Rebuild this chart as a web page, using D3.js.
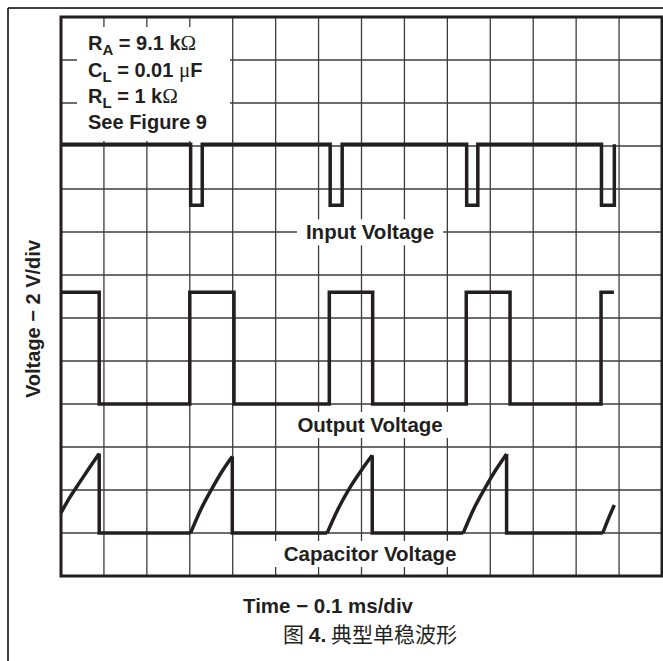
<!DOCTYPE html>
<html><head><meta charset="utf-8">
<script src="https://cdn.jsdelivr.net/npm/d3@7"></script>
<style>body{margin:0;background:#fff}</style>
</head><body><svg id="c" width="663" height="661"></svg>
<script>
// ---- data (time in divisions, voltage in divisions from bottom) ----
const xDivisions = d3.range(0, 15);
const yDivisions = d3.range(0, 14);
const inputTrace = [[0,10.04],[3.02,10.04],[3.02,8.62],[3.29,8.62],[3.29,10.04],[6.27,10.04],[6.27,8.62],[6.55,8.62],[6.55,10.04],[9.45,10.04],[9.45,8.62],[9.71,8.62],[9.71,10.04],[12.59,10.04],[12.59,8.62],[12.89,8.62],[12.89,10.04]];
const outputTrace = [[0,6.6],[0.89,6.6],[0.89,4.0],[3.0,4.0],[3.0,6.6],[4.03,6.6],[4.03,4.0],[6.25,4.0],[6.25,6.6],[7.26,6.6],[7.26,4.0],[9.44,4.0],[9.44,6.6],[10.46,6.6],[10.46,4.0],[12.58,4.0],[12.58,6.6],[12.88,6.6]];
const capRamps = [
  [[0,1.47],[0.22,1.85],[0.45,2.2],[0.67,2.53],[0.89,2.85]],
  [[3.02,1.0],[3.26,1.55],[3.51,2.02],[3.75,2.43],[3.99,2.78]],
  [[6.2,1.0],[6.46,1.57],[6.72,2.04],[6.99,2.45],[7.25,2.81]],
  [[9.37,1.0],[9.62,1.57],[9.88,2.05],[10.13,2.47],[10.38,2.84]],
  [[12.62,1.0],[12.75,1.33],[12.89,1.65]]
];
const capLow = 1.0;
const traceLabels = ["Input Voltage", "Output Voltage", "Capacitor Voltage"];
const paramLines = [["R","A"," = 9.1 k","Ω"],["C","L"," = 0.01 ","μ","F"],["R","L"," = 1 k","Ω"],["See Figure 9"]];
const xTitle = "Time − 0.1 ms/div";
const yTitle = "Voltage − 2 V/div";

// ---- layout ----
const L = 61, R = 662, T = 17, B = 576;
const x = d3.scaleLinear().domain([0, 14]).range([L, R]);
const y = d3.scaleLinear().domain([0, 13]).range([B, T]);
const ink = "#231f20";
const sans = "'Liberation Sans', Arial, Helvetica, sans-serif";
const svg = d3.select("#c");

// outer frame (top + left)
svg.append("line").attr("x1",8).attr("y1",8).attr("x2",663).attr("y2",8).attr("stroke","#000").attr("stroke-width",1.5);
svg.append("line").attr("x1",8).attr("y1",8).attr("x2",8).attr("y2",661).attr("stroke","#000").attr("stroke-width",1.5);

// grid
const g = svg.append("g");
g.selectAll(".vx").data(xDivisions).join("line")
  .attr("x1", d => x(d)).attr("x2", d => x(d)).attr("y1", T).attr("y2", B)
  .attr("stroke", "#3c3c3c").attr("stroke-width", 1.3);
g.selectAll(".hy").data(yDivisions).join("line")
  .attr("y1", d => y(d)).attr("y2", d => y(d)).attr("x1", L).attr("x2", R)
  .attr("stroke", "#3c3c3c").attr("stroke-width", 1.3);

// parameter box
svg.append("rect").attr("x", 77).attr("y", 27).attr("width", 153).attr("height", 114).attr("fill", "#fff");
const pt = svg.append("g").attr("font-family", sans).attr("font-weight", "bold").attr("font-size", 20).attr("fill", ink);
const baselines = [50, 76.5, 102.5, 128.5];
paramLines.forEach((parts, i) => {
  const t = pt.append("text").attr("x", 88).attr("y", baselines[i]);
  if (parts.length === 1) { t.text(parts[0]); return; }
  t.append("tspan").text(parts[0]);
  t.append("tspan").attr("font-size", 15).attr("dy", 5).text(parts[1]);
  t.append("tspan").attr("dy", -5).text(parts[2]);
  t.append("tspan").attr("font-family", "'Liberation Serif', 'DejaVu Serif', serif").attr("font-weight", "normal").attr("font-size", 21).text(parts[3]);
  if (parts[4]) t.append("tspan").text(parts[4]);
});

// trace labels with white backgrounds
const labelPos = [[7.2, 7.83], [7.2, 3.35], [7.2, 0.35]];
traceLabels.forEach((lab, i) => {
  const t = svg.append("text").attr("x", x(labelPos[i][0])).attr("y", y(labelPos[i][1]))
    .attr("text-anchor", "middle").attr("font-family", sans).attr("font-weight", "bold")
    .attr("font-size", 20.5).attr("fill", ink).text(lab);
  const bb = t.node().getBBox();
  svg.insert("rect", () => t.node()).attr("x", bb.x - 9).attr("y", bb.y - 1).attr("width", bb.width + 18).attr("height", bb.height + 3).attr("fill", "#fff");
});

// traces
const line = d3.line().x(d => x(d[0])).y(d => y(d[1]));
const traceStyle = sel => sel.attr("fill", "none").attr("stroke", ink).attr("stroke-width", 3.5).attr("stroke-linejoin", "miter").attr("stroke-linecap", "butt");
svg.append("path").attr("d", line(inputTrace)).call(traceStyle);
svg.append("path").attr("d", line(outputTrace)).call(traceStyle);
const curve = d3.line().x(d => x(d[0])).y(d => y(d[1])).curve(d3.curveMonotoneX);
capRamps.forEach((ramp, i) => {
  svg.append("path").attr("d", curve(ramp)).call(traceStyle);
  if (i < capRamps.length - 1) {
    const end = ramp[ramp.length - 1], next = capRamps[i + 1][0];
    svg.append("path").attr("d", line([end, [end[0], capLow], next])).call(traceStyle);
  }
});

// plot border
svg.append("rect").attr("x", L).attr("y", T).attr("width", R - L).attr("height", B - T)
  .attr("fill", "none").attr("stroke", ink).attr("stroke-width", 3);

// axis titles
svg.append("text").attr("transform", "translate(40,319) rotate(-90)").attr("text-anchor", "middle")
  .attr("font-family", sans).attr("font-weight", "bold").attr("font-size", 20).attr("fill", ink).text(yTitle);
svg.append("text").attr("x", 328).attr("y", 613).attr("text-anchor", "middle")
  .attr("font-family", sans).attr("font-weight", "bold").attr("font-size", 20.5).attr("fill", ink).text(xTitle);
const cap = svg.append("text").attr("x", 370).attr("y", 642).attr("text-anchor", "middle")
  .attr("font-family", "'Noto Sans CJK SC', sans-serif").attr("font-size", 21).attr("fill", ink);
cap.append("tspan").text("图 ");
cap.append("tspan").attr("font-family", sans).attr("font-weight", "bold").text("4.");
cap.append("tspan").text(" 典型单稳波形");
</script></body></html>
